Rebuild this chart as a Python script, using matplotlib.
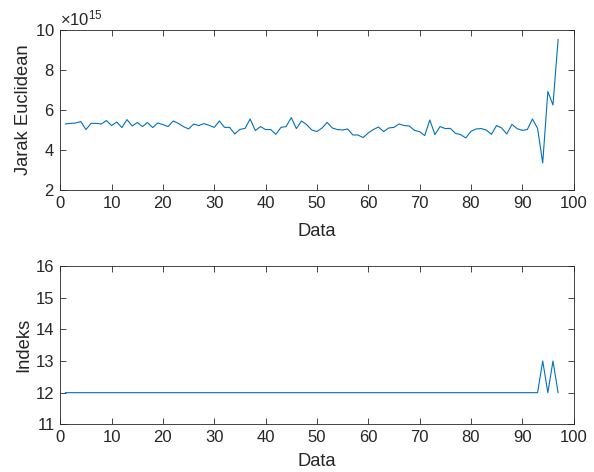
import matplotlib
matplotlib.use("Agg")
import matplotlib.pyplot as plt
from matplotlib.ticker import ScalarFormatter
import numpy as np

plt.rcParams['font.family'] = ['Liberation Sans', 'DejaVu Sans']
plt.rcParams['mathtext.fontset'] = 'custom'
plt.rcParams['mathtext.rm'] = 'Liberation Sans'
plt.rcParams['mathtext.it'] = 'Liberation Sans'

# Euclidean distance per data point (units of 1e15)
jarak = [5.30, 5.33, 5.35, 5.42, 5.02, 5.33, 5.33, 5.30, 5.47, 5.22,
         5.40, 5.12, 5.52, 5.20, 5.37, 5.17, 5.37, 5.12, 5.35, 5.27,
         5.17, 5.45, 5.33, 5.17, 5.05, 5.30, 5.22, 5.32, 5.23, 5.13,
         5.45, 5.13, 5.13, 4.80, 5.03, 5.08, 5.55, 4.97, 5.17, 5.02,
         5.02, 4.78, 5.13, 5.17, 5.62, 5.07, 5.45, 5.27, 5.00, 4.92,
         5.10, 5.38, 5.10, 5.02, 5.00, 5.05, 4.75, 4.75, 4.62, 4.85,
         5.02, 5.15, 4.92, 5.10, 5.13, 5.30, 5.22, 5.20, 4.98, 4.92,
         4.72, 5.50, 4.77, 5.17, 5.07, 5.08, 4.83, 4.77, 4.60, 4.93,
         5.05, 5.07, 5.00, 4.78, 5.22, 5.10, 4.80, 5.28, 5.07, 4.98,
         5.02, 5.55, 5.08, 3.35, 6.92, 6.25, 9.52]
# Index per data point
indeks = [12] * 93 + [13, 12, 13, 12]

data_idx = list(range(1, len(jarak) + 1))

scale = 1e15
xticks = [0, 10, 20, 30, 40, 50, 60, 70, 80, 90, 100]
yticks_top = [2, 4, 6, 8, 10]
yticks_bot = [11, 12, 13, 14, 15, 16]

axcol = '#262626'
linecol = '#0072BD'
tfs = 12
lfs = 13.2

fig = plt.figure(figsize=(5.94, 4.72), dpi=100)
ax1 = fig.add_axes([0.1015, 0.5975, 0.864, 0.339])
ax2 = fig.add_axes([0.1015, 0.101, 0.864, 0.3354])

ax1.plot(data_idx, np.array(jarak) * scale, color=linecol, lw=0.8)
ax1.set_xlim(0, 100)
ax1.set_ylim(2 * scale, 10 * scale)
ax1.set_yticks([v * scale for v in yticks_top])
fmt = ScalarFormatter(useMathText=True)
fmt.set_powerlimits((15, 15))
ax1.yaxis.set_major_formatter(fmt)
ax1.set_ylabel('Jarak Euclidean', fontsize=lfs, color=axcol, labelpad=2)
ax1.set_xlabel('Data', fontsize=lfs, color=axcol, labelpad=9)

ax2.plot(data_idx, indeks, color=linecol, lw=0.8)
ax2.set_xlim(0, 100)
ax2.set_ylim(11, 16)
ax2.set_yticks(yticks_bot)
ax2.set_ylabel('Indeks', fontsize=lfs, color=axcol, labelpad=3)
ax2.set_xlabel('Data', fontsize=lfs, color=axcol, labelpad=6)

for ax in (ax1, ax2):
    ax.set_xticks(xticks)
    ax.tick_params(direction='in', top=True, right=True, length=4, width=0.6,
                   labelsize=tfs, colors=axcol, pad=4)
    for s in ax.spines.values():
        s.set_color(axcol)
        s.set_linewidth(0.6)

ax1.yaxis.get_offset_text().set_fontsize(tfs)
ax1.yaxis.get_offset_text().set_color(axcol)

fig.savefig('out.png', dpi=100)
